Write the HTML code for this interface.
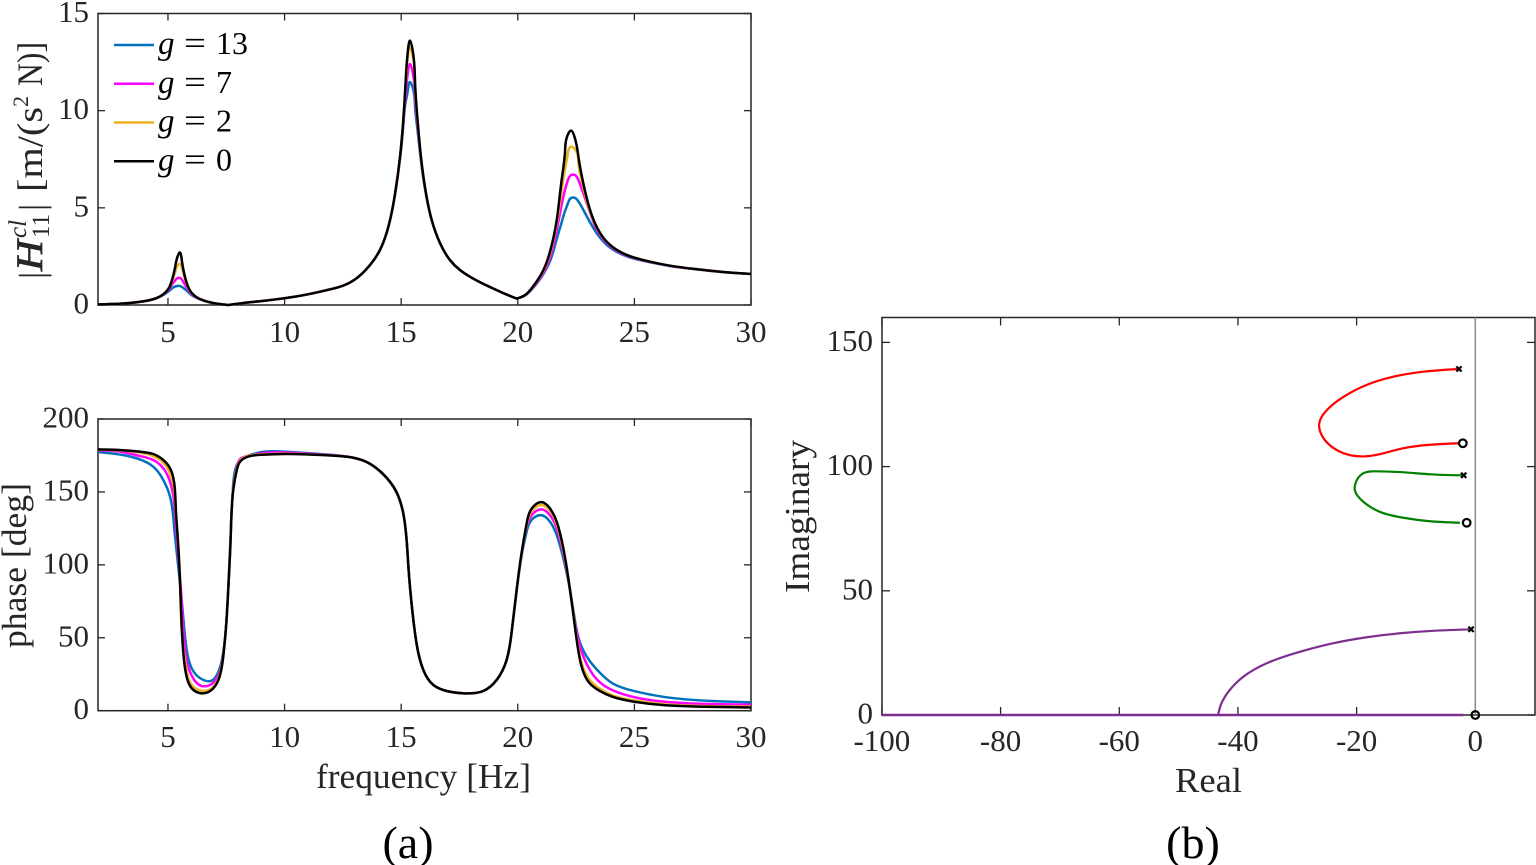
<!DOCTYPE html>
<html lang="en">
<head>
<meta charset="utf-8">
<title>Closed-loop FRF and root locus</title>
<style>
html,body{margin:0;padding:0;background:#fff;}
svg{display:block;}
text{font-family:"Liberation Serif",serif;fill:#262626;}
</style>
</head>
<body>
<svg id="fig" xmlns="http://www.w3.org/2000/svg" width="1536" height="865" viewBox="0 0 1536 865">
  <g id="marks-behind"></g>

  <g transform="translate(42,0) rotate(-90)">
    <text x="-279" y="2" font-size="36">|</text>
    <text x="-271" y="0" font-size="37" font-style="italic" textLength="31" lengthAdjust="spacingAndGlyphs" stroke="#262626" stroke-width="0.7">H</text>
    <text x="-238" y="-16" font-size="25" font-style="italic">cl</text>
    <text x="-238" y="7" font-size="25">11</text>
    <text x="-211" y="2" font-size="36">|</text>
    <text x="-192" y="0" font-size="36" textLength="85" lengthAdjust="spacingAndGlyphs">[m/(s</text>
    <text x="-107" y="-14" font-size="22">2</text>
    <text x="-86" y="0" font-size="36" textLength="44" lengthAdjust="spacingAndGlyphs">N)]</text>
  </g>
  <text transform="translate(26,648) rotate(-90)" font-size="35" textLength="165" lengthAdjust="spacingAndGlyphs">phase [deg]</text>
  <text x="316" y="788" font-size="35" textLength="215" lengthAdjust="spacingAndGlyphs">frequency [Hz]</text>
  <text x="1175" y="792" font-size="35" textLength="67" lengthAdjust="spacingAndGlyphs">Real</text>
  <text transform="translate(809,593) rotate(-90)" font-size="35" textLength="153" lengthAdjust="spacingAndGlyphs">Imaginary</text>
  <text x="408" y="858" font-size="46" text-anchor="middle" style="fill:#000">(a)</text>
  <text x="1193" y="858" font-size="46" text-anchor="middle" style="fill:#000">(b)</text>
</svg>
<script>
/* ---------- magnitude data ---------- */
const magFreq = [2,3,4,4.5,4.8,5,5.2,5.3,5.4,5.5,5.6,5.7,5.8,6,6.3,6.7,
  7.2,7.6,8.2,9,10,11,12,12.5,13,13.45,14.09,14.3,14.45,14.74,14.95,15.09,15.2,15.28,15.38,15.49,15.59,15.69,15.88,16.09,16.31,16.67,17.1,17.52,18,18.5,19,19.5,19.95,
  20.3,20.6,21.1,21.38,21.67,21.88,22.03,22.14,22.28,22.43,22.6,22.81,23.1,23.38,23.81,24.38,25.1,25.67,26.5,27.6,29,30];
const magG13 = [.03,.07,.2,.35,.52,.68,.88,.95,.98,.98,.93,.84,.74,.52,.33,.16,
  .05,0,.1,.2,.35,.55,.82,.99,1.3,1.77,2.83,3.42,4.0,5.7,7.5,9.2,10.5,11.0,11.47,11.2,10.3,9.1,7.1,5.5,4.35,3.17,2.3,1.8,1.42,1.1,.82,.55,.33,
  .48,.8,1.6,2.25,3.4,4.25,4.85,5.2,5.5,5.52,5.33,4.9,4.25,3.7,3.1,2.65,2.35,2.2,2.01,1.84,1.67,1.6];
const magG7 = [.03,.07,.2,.35,.55,.75,1.1,1.25,1.38,1.4,1.3,1.1,.92,.58,.34,.17,
  .05,0,.1,.2,.35,.55,.82,.99,1.3,1.77,2.83,3.43,4.02,5.72,7.55,9.4,11,11.9,12.4,12,10.9,9.4,7.2,5.55,4.37,3.17,2.3,1.8,1.42,1.1,.82,.55,.33,
  .49,.83,1.65,2.45,3.85,5.15,5.95,6.4,6.68,6.7,6.43,5.75,4.75,3.9,3.2,2.7,2.38,2.22,2.02,1.85,1.68,1.6];
const magG2 = [.03,.07,.2,.35,.55,.8,1.3,1.65,2.0,2.12,1.9,1.45,1.1,.63,.35,.17,
  .05,0,.1,.2,.35,.55,.82,.99,1.3,1.77,2.83,3.44,4.03,5.75,7.6,9.5,11.5,12.7,13.25,12.85,11.4,9.6,7.25,5.56,4.37,3.17,2.3,1.8,1.42,1.1,.82,.55,.33,
  .5,.86,1.75,2.65,4.2,5.9,7.05,7.75,8.15,8.05,7.35,6.05,4.8,4.0,3.25,2.74,2.4,2.23,2.03,1.85,1.68,1.6];
const magG0 = [.03,.07,.2,.35,.55,.8,1.4,1.9,2.45,2.7,2.25,1.6,1.15,.65,.35,.17,
  .05,0,.1,.2,.35,.55,.82,.99,1.3,1.77,2.83,3.44,4.03,5.75,7.63,9.52,11.7,13.0,13.6,13.12,11.6,9.7,7.29,5.57,4.37,3.17,2.3,1.8,1.42,1.1,.82,.55,.33,
  .5,.87,1.8,2.74,4.37,6.43,7.98,8.75,8.97,8.66,7.63,6.26,4.89,4.03,3.26,2.74,2.4,2.23,2.03,1.85,1.68,1.6];
const magCusps = [7.6,19.95];

/* ---------- phase data ---------- */
const phaseFreq = [2,3,3.8,4.37,4.8,5.09,5.27,5.34,5.4,5.52,5.66,5.8,6.02,6.44,6.87,7.16,7.37,7.49,7.59,7.69,7.8,7.95,8.09,8.52,9,10,12,
  13.5,14.2,14.8,15.09,15.3,15.49,15.66,15.95,16.38,16.95,17.73,18.52,19.09,19.52,19.73,19.95,20.16,20.38,20.66,21.02,21.38,21.74,22.02,22.24,22.45,22.67,23.09,23.52,24.07,24.93,26.2,28.4,30];
const phaseG13 = [177.4,175.5,172.3,167.3,158.2,146.7,125,114,105,87,63,42,29,21.7,20.6,26.5,40,57.6,85,121.6,155.9,168.5,172,175.3,177.3,177.6,175.4,
  170.5,162.4,149.5,135,101,66.7,46,27.9,17.6,13.5,11.9,13.5,21,34.7,53,82,106,122.7,131.9,134,129.6,117,99.9,82.7,62,46.5,34,26,18.7,13.7,9.6,6.6,5.7];
const phaseG7 = [178.6,177.5,174.6,171.9,166.2,157,142,127,114.7,91,55.3,34.7,24,17,18.3,24,38,57.6,85,120,153,167,172.5,175,176.5,177,175.2,
  170.6,162.6,149.8,135.2,101,66.7,46,27.9,17.6,13.5,11.9,13.5,21,34.7,53,82.4,107,126,135.3,138,134,121.6,102.8,82.7,59.9,44,28,19.5,14,9.5,6.3,4.5,4.1];
const phaseG2 = [179,178.4,176.9,174.6,170,162.7,151.3,135,123,87,42,27.5,17.6,13.7,15.3,22,37.5,57.6,85,119.5,152,166,171.5,175,175.8,176.3,175,
  170.7,162.7,150,135.3,101,66.7,46,27.9,17.6,13.5,11.9,13.5,21,34.7,53,82.7,107.5,127.3,138,141,137,124.3,104.4,82.7,58.7,37,21,15,10.5,7.2,4.5,3,2.8];
const phaseG0 = [179.2,178.7,177.6,176,171.9,166.2,155.9,137.6,123,87.3,39.3,23.3,15.3,11.9,14.2,21,37,57.6,85,119,151.3,165,170.7,174.6,175.5,176,175,
  170.7,162.7,150,135.3,101,66.7,46,27.9,17.6,13.5,11.9,13.5,21,34.7,53,82.7,107.9,128.4,139.9,143,138.7,126,105.6,82.7,57.6,34.7,18.7,13.5,9.5,6.3,3.9,2.6,2.2];

/* ---------- root locus data ---------- */
const redRe = [-2.75,-8.76,-13.8,-18.3,-22.2,-25,-26.3,-25.9,-24.2,-21.7,-18.9,-16.1,-12.1,-7.6,-2.9];
const redIm = [139.3,138.2,136.2,132.9,128.1,122.8,117.4,112.7,108,105,104.1,105,107.4,108.8,109.4];
const greenRe = [-1.96,-7.6,-12.1,-16.6,-18.9,-20.1,-20.3,-18.9,-16.1,-12.1,-7.6,-2.6];
const greenIm = [96.5,96.9,97.7,98.1,97.3,93.9,90.6,85.9,81.8,79.4,78,77.4];
const purpleRe = [-0.72,-7.1,-12.7,-18.3,-23.9,-29.5,-35.2,-39.1,-41.6,-42.9,-43.35];
const purpleIm = [34.5,33.9,32.9,31.3,28.9,25.5,20.8,15.4,9.4,4,0];
const axisBranchRe = [-100,-2];
const axisBranchIm = [0,0];
const poleRe = [-2.75,-1.96,-0.72];
const poleIm = [139.3,96.5,34.5];
const zeroRe = [-2.1,-1.45,0];
const zeroIm = [109.4,77.4,0];

/* ---------- ticks and legend ---------- */
const freqTicks = [5,10,15,20,25,30];
const magTicks = [0,5,10,15];
const phaseTicks = [0,50,100,150,200];
const reTicks = [-100,-80,-60,-40,-20,0];
const imTicks = [0,50,100,150];
const legendValues = ['13','7','2','0'];

/* ---------- axis functions ---------- */
const xFreq = f => 98 + (f - 2) * (751 - 98) / 28;
const yMag = v => 305 - v * (305 - 13.5) / 15;
const yPhase = v => 710.7 - v * (710.7 - 419) / 200;
const xRe = r => 1475.3 + r * 5.934;
const yIm = v => 715 - v * 2.484;

const NS = 'http://www.w3.org/2000/svg';
const fig = document.getElementById('marks-behind');
function make(tag, attrs, parent) {
  const e = document.createElementNS(NS, tag);
  for (const k in attrs) e.setAttribute(k, attrs[k]);
  (parent || fig).appendChild(e);
  return e;
}
/* natural cubic spline first derivatives at knots */
function splineSlopes(t, v) {
  const n = t.length, h = [], d = [];
  for (let i = 0; i < n - 1; i++) { h.push(t[i + 1] - t[i]); d.push((v[i + 1] - v[i]) / h[i]); }
  const a = new Array(n).fill(0), b = new Array(n).fill(0), c = new Array(n).fill(0), r = new Array(n).fill(0);
  b[0] = 2; c[0] = 1; r[0] = 3 * d[0];
  for (let i = 1; i < n - 1; i++) {
    a[i] = h[i]; b[i] = 2 * (h[i - 1] + h[i]); c[i] = h[i - 1];
    r[i] = 3 * (h[i] * d[i - 1] + h[i - 1] * d[i]);
  }
  a[n - 1] = 1; b[n - 1] = 2; r[n - 1] = 3 * d[n - 2];
  for (let i = 1; i < n; i++) {
    const w = a[i] / b[i - 1];
    b[i] -= w * c[i - 1];
    r[i] -= w * r[i - 1];
  }
  const m = new Array(n);
  m[n - 1] = r[n - 1] / b[n - 1];
  for (let i = n - 2; i >= 0; i--) m[i] = (r[i] - c[i] * m[i + 1]) / b[i];
  return m;
}
function splineSegment(px, py) {
  const t = [0];
  for (let i = 1; i < px.length; i++) t.push(t[i - 1] + Math.hypot(px[i] - px[i - 1], py[i] - py[i - 1]) + 1e-6);
  const mx = splineSlopes(t, px), my = splineSlopes(t, py);
  let s = '';
  for (let i = 0; i < px.length - 1; i++) {
    const h = (t[i + 1] - t[i]) / 3;
    s += 'C' + (px[i] + mx[i] * h).toFixed(2) + ' ' + (py[i] + my[i] * h).toFixed(2) + ' ' +
      (px[i + 1] - mx[i + 1] * h).toFixed(2) + ' ' + (py[i + 1] - my[i + 1] * h).toFixed(2) + ' ' +
      px[i + 1].toFixed(2) + ' ' + py[i + 1].toFixed(2);
  }
  return s;
}
/* breaks: indexes where the curve has a real corner */
function curvePath(px, py, breaks) {
  const cuts = [0].concat(breaks || [], [px.length - 1]);
  let s = 'M' + px[0].toFixed(2) + ' ' + py[0].toFixed(2);
  for (let k = 0; k < cuts.length - 1; k++) {
    s += splineSegment(px.slice(cuts[k], cuts[k + 1] + 1), py.slice(cuts[k], cuts[k + 1] + 1));
  }
  return s;
}
const AXIS = '#262626';
function drawBox(l, t, r, b, name) {
  const box = make('rect', {x: l, y: t, width: r - l, height: b - t, fill: 'none', stroke: AXIS, 'stroke-width': 1.5});
  
  
}
function xTick(x, t, b, len, label, baseline, name) {
  const a = make('line', {x1: x, x2: x, y1: b, y2: b - len, stroke: AXIS, 'stroke-width': 1.3});
  
  
  const c = make('line', {x1: x, x2: x, y1: t, y2: t + len, stroke: AXIS, 'stroke-width': 1.3});
  
  
  const tx = make('text', {x: x, y: baseline, 'font-size': 31, 'text-anchor': 'middle'});
  tx.textContent = label;
  
  
}
function yTick(y, l, r, len, label, rightEdge, name) {
  const a = make('line', {x1: l, x2: l + len, y1: y, y2: y, stroke: AXIS, 'stroke-width': 1.3});
  
  
  const c = make('line', {x1: r, x2: r - len, y1: y, y2: y, stroke: AXIS, 'stroke-width': 1.3});
  
  
  const tx = make('text', {x: rightEdge, y: y + 8.5, 'font-size': 31, 'text-anchor': 'end'});
  tx.textContent = label;
  
  
}

/* magnitude axes */
drawBox(98, 13.5, 751, 305, 'magnitude-axes-box');
freqTicks.forEach(f => xTick(xFreq(f), 13.5, 305, 7, String(f), 342, 'magnitude-x'));
magTicks.forEach(v => yTick(yMag(v), 98, 751, 7, String(v), 89, 'magnitude-y'));

/* phase axes */
drawBox(98, 419, 751, 710.7, 'phase-axes-box');
freqTicks.forEach(f => xTick(xFreq(f), 419, 710.7, 7, String(f), 747, 'phase-x'));
phaseTicks.forEach(v => yTick(yPhase(v), 98, 751, 7, String(v), 89, 'phase-y'));

/* root locus axes */
drawBox(882, 317.5, 1535, 715, 'root-locus-axes-box');
reTicks.forEach(r => xTick(xRe(r), 317.5, 715, 8, String(r), 751, 'real'));
imTicks.forEach(v => yTick(yIm(v), 882, 1535, 8, String(v), 873, 'imaginary'));
const zeroLine = make('line', {x1: xRe(0), x2: xRe(0), y1: 317.5, y2: 715, stroke: '#8a8a8a', 'stroke-width': 1.5});



/* FRF curves */
const colors = ['#0072BD', '#FF00FF', '#EDB120', '#000000'];
const magSeries = [magG13, magG7, magG2, magG0];
const phaseSeries = [phaseG13, phaseG7, phaseG2, phaseG0];
const magBreaks = magCusps.map(f => magFreq.indexOf(f));
magSeries.forEach((vals, i) => {
  const p = make('path', {d: curvePath(magFreq.map(xFreq), vals.map(yMag), magBreaks), fill: 'none', stroke: colors[i], 'stroke-width': 2.5, 'stroke-linejoin': 'round'});
  
  
});
phaseSeries.forEach((vals, i) => {
  const p = make('path', {d: curvePath(phaseFreq.map(xFreq), vals.map(yPhase)), fill: 'none', stroke: colors[i], 'stroke-width': 2.5, 'stroke-linejoin': 'round'});
  
  
});

/* legend */
legendValues.forEach((lab, i) => {
  const y = 45 + i * 38.75;
  const ln = make('line', {x1: 114, x2: 154, y1: y, y2: y, stroke: colors[i], 'stroke-width': 2.4});
  
  
  const g = make('text', {x: 158, y: y + 9, 'font-size': 33, 'font-style': 'italic', style: 'fill:#000'});
  g.textContent = 'g';
  
  
  const eq = make('text', {x: 184, y: y + 9, 'font-size': 33, textLength: 22, lengthAdjust: 'spacingAndGlyphs', style: 'fill:#000'});
  eq.textContent = '=';
  
  
  const v = make('text', {x: 216, y: y + 9, 'font-size': 32, style: 'fill:#000'});
  v.textContent = lab;
  
  
});

/* root locus branches */
const redPath = make('path', {d: curvePath(redRe.map(xRe), redIm.map(yIm)), fill: 'none', stroke: '#FF0000', 'stroke-width': 2.2});


const greenPath = make('path', {d: curvePath(greenRe.map(xRe), greenIm.map(yIm)), fill: 'none', stroke: '#008000', 'stroke-width': 2.2});


const purplePath = make('path', {d: curvePath(purpleRe.map(xRe), purpleIm.map(yIm)), fill: 'none', stroke: '#7E2F8E', 'stroke-width': 2.2});


const realPath = make('path', {d: curvePath(axisBranchRe.map(xRe), axisBranchIm.map(yIm)), fill: 'none', stroke: '#7E2F8E', 'stroke-width': 2.4});



/* poles and zeros */
poleRe.forEach((r, i) => {
  const cx = xRe(r), cy = yIm(poleIm[i]), s = 2.6;
  const m = make('path', {d: 'M' + (cx - s) + ' ' + (cy - s) + 'L' + (cx + s) + ' ' + (cy + s) + 'M' + (cx - s) + ' ' + (cy + s) + 'L' + (cx + s) + ' ' + (cy - s), stroke: '#000', 'stroke-width': 2.2, fill: 'none'});
  
  
});
zeroRe.forEach((r, i) => {
  const m = make('circle', {cx: xRe(r), cy: yIm(zeroIm[i]), r: 3.8, fill: 'none', stroke: '#000', 'stroke-width': 2.2});
  
  
});
</script>
</body>
</html>
